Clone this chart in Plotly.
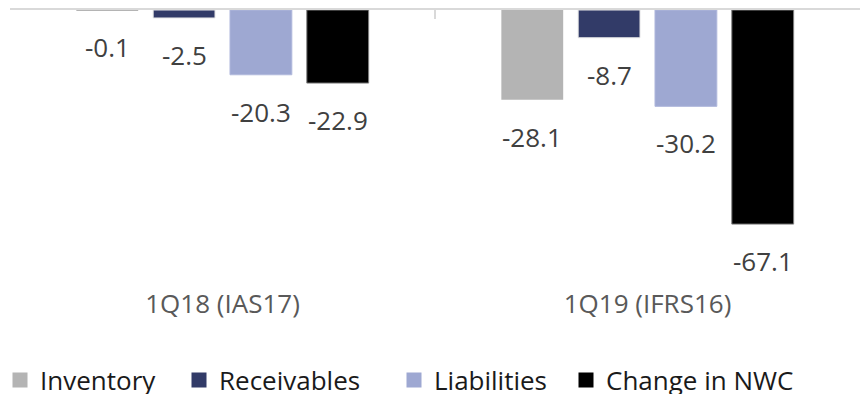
import plotly.graph_objects as go

categories = ["1Q18 (IAS17)", "1Q19 (IFRS16)"]
series_names = ["Inventory", "Receivables", "Liabilities", "Change in NWC"]
inventory = [-0.1, -28.1]
receivables = [-2.5, -8.7]
liabilities = [-20.3, -30.2]
change_nwc = [-22.9, -67.1]
series_values = [inventory, receivables, liabilities, change_nwc]
colors = ["#B4B4B4", "#323B68", "#9EA8D2", "#000000"]
line_colors = [None, "#E6E6E6", "#B0B8DC", "#7F7F7F"]
line_widths = [0, 1, 1, 1]

FONT = "Open Sans"
bargap = 0.277
bargroupgap = 0.195
W, H = 860, 394
MT, MB = 10, 108
legend_text_x = [38, 221, 436, 608]  # px where each legend label starts
legend_center_y = 380                # px, vertical centre of legend row

fig = go.Figure()
legend_ids = ["legend", "legend2", "legend3", "legend4"]
for name, vals, c, lc, lw, lid in zip(series_names, series_values, colors,
                                      line_colors, line_widths, legend_ids):
    fig.add_trace(go.Bar(
        x=categories, y=vals, name=name, showlegend=False,
        marker=dict(color=c, line=dict(color=lc or c, width=lw)),
        hoverinfo="skip",
    ))
    fig.add_trace(go.Scatter(
        x=[None], y=[None], name=name, mode="markers", legend=lid,
        marker=dict(symbol="square", size=15, color=c, line=dict(width=0)),
        hoverinfo="skip",
    ))

fig.add_trace(go.Scatter(x=categories, y=[None, None], xaxis="x2",
                         mode="none", showlegend=False, hoverinfo="skip"))

n = len(series_names)
slot = (1 - bargap) / n
annotations = []
for si, vals in enumerate(series_values):
    off = (si - (n - 1) / 2) * slot
    for ci, v in enumerate(vals):
        annotations.append(dict(
            x=ci + off, y=v, xref="x", yref="y",
            text=f"{v:.1f}", showarrow=False,
            yanchor="middle", yshift=-37,
            font=dict(family=FONT, size=26, color="#404040"),
        ))

legend_layout = {}
for lid, tx in zip(legend_ids, legend_text_x):
    legend_layout[lid] = dict(
        orientation="h", xref="container", x=(tx - 42) / W, xanchor="left",
        yref="container", y=(H - legend_center_y) / H, yanchor="middle",
        font=dict(family=FONT, size=26, color="#1A1A1A"),
        itemwidth=30, bgcolor="rgba(0,0,0,0)",
    )

fig.update_layout(
    width=W, height=H,
    margin=dict(l=10, r=0, t=MT, b=MB),
    paper_bgcolor="white", plot_bgcolor="white",
    barmode="group", bargap=bargap, bargroupgap=bargroupgap,
    annotations=annotations,
    xaxis=dict(
        type="category", categoryarray=categories,
        showline=False, ticks="", showgrid=False, zeroline=False,
        tickfont=dict(family=FONT, size=26, color="#595959"),
    ),
    xaxis2=dict(
        type="category", categoryarray=categories, matches="x",
        overlaying="x", side="top",
        showline=True, linecolor="#D9D9D9", linewidth=1.5,
        ticks="inside", tickson="boundaries", ticklen=9,
        tickcolor="#D9D9D9", tickwidth=1.5,
        showticklabels=False, showgrid=False, zeroline=False,
    ),
    yaxis=dict(range=[-86.5, 0], visible=False, showgrid=False),
    **legend_layout,
)
fig.write_html("out.html")
